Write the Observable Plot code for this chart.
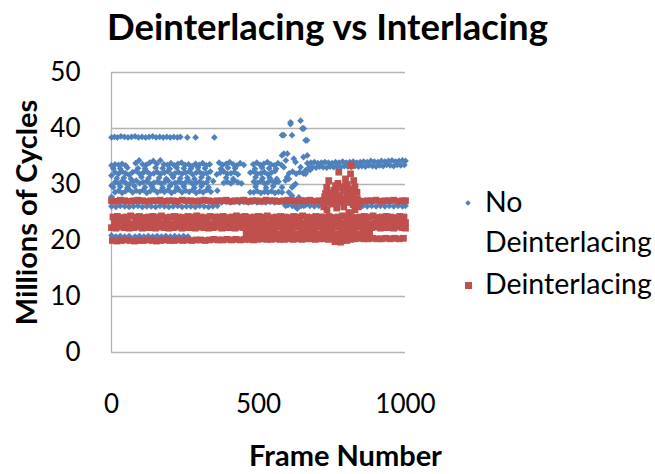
<!DOCTYPE html>
<html><head><meta charset="utf-8">
<script src="https://cdn.jsdelivr.net/npm/d3@7"></script>
<script src="https://cdn.jsdelivr.net/npm/@observablehq/plot@0.6"></script>
<style>
html,body{margin:0;padding:0;background:#fff;}
#wrap{position:relative;width:655px;height:474px;overflow:hidden;font-family:Lato,sans-serif;color:#000;background:#fff;}
#title{position:absolute;left:0;top:8px;width:655px;text-align:center;font-weight:bold;font-size:36.5px;line-height:36px;white-space:nowrap;}
#chart{position:absolute;left:0;top:60px;}
.leg{position:absolute;left:485px;width:175px;font-size:28.5px;line-height:40px;}
.sym{position:absolute;}
</style></head>
<body><div id="wrap"><div id="title"></div><div id="chart"></div></div>
<script>
const chartTitle = "Deinterlacing vs Interlacing";
const xTitle = "Frame Number";
const yTitle = "Millions of Cycles";
const xTicks = [0, 500, 1000];
const yTicks = [0, 10, 20, 30, 40, 50];
const seriesNames = ["No Deinterlacing", "Deinterlacing"];
const seriesColors = ["#4F81BD", "#C0504D"];

// ---- No Deinterlacing: [frame, millions of cycles] ----
const noDeintTop = [[0,38.4],[10,38.5],[20,38.4],[32,38.6],[44,38.5],[56,38.4],[68,38.5],[80,38.6],[92,38.4],[104,38.5],[116,38.4],[128,38.5],[140,38.6],[152,38.4],[164,38.5],[176,38.4],[188,38.5],[200,38.4],[212,38.5],[224,38.4],[234,38.5],[258,38.4],[286,38.4],[350,38.4]];
const noDeintRowA = [[0,33.4],[12,33.6],[24,33.5],[36,33.7],[48,33.4],[82,33.8],[94,34.3],[106,33.6],[118,33.5],[130,33.9],[142,34.2],[154,33.7],[166,34.3],[178,33.6],[190,33.5],[202,33.8],[214,33.4],[226,33.7],[238,33.9],[250,33.5],[262,33.6],[274,33.3],[286,33.7],[298,33.5],[310,33.8],[322,33.4],[334,33.6],[366,33.9],[378,33.5],[390,33.7],[402,34.0],[414,33.6],[426,33.4],[438,33.8],[450,33.5],[482,33.6],[494,33.9],[506,33.5],[518,33.7],[530,34.0],[542,33.6],[554,33.4],[566,33.8],[578,33.5]];
const noDeintRowB = [[0,31.6],[12,32.2],[24,31.9],[36,32.3],[48,32.0],[60,31.7],[72,32.2],[84,32.4],[96,31.9],[108,32.1],[120,32.3],[132,31.8],[144,32.0],[156,32.2],[168,31.9],[180,32.1],[192,32.4],[204,31.8],[216,32.0],[228,32.2],[240,31.9],[252,32.1],[264,32.3],[276,31.8],[288,32.1],[300,32.2],[312,31.9],[324,32.0],[336,32.3],[358,31.8],[370,32.1],[382,32.3],[394,31.9],[406,32.0],[418,32.2],[430,31.8],[472,32.1],[484,32.3],[496,31.9],[508,32.0],[520,32.2],[532,31.8],[544,32.1],[556,32.4],[604,32.0],[616,32.3],[628,31.9],[640,32.2],[652,32.0],[664,32.4],[676,32.6]];
const noDeintRowC = [[0,29.8],[12,30.4],[24,30.2],[36,30.6],[48,30.3],[60,30.0],[72,30.5],[84,30.7],[96,30.2],[108,30.4],[120,30.6],[132,30.1],[144,30.3],[156,30.5],[168,30.2],[180,30.4],[192,30.7],[204,30.1],[216,30.3],[228,30.5],[240,30.2],[252,30.4],[264,30.6],[276,30.1],[288,30.3],[300,30.5],[312,30.2],[324,30.4],[346,30.6],[382,30.3],[394,30.5],[406,30.2],[418,30.7],[430,30.4],[442,30.2],[484,30.5],[496,30.3],[508,30.6],[520,30.2],[532,30.4],[544,30.7],[556,30.3],[568,30.5]];
const noDeintRowD = [[0,27.8],[12,28.6],[24,28.9],[36,28.5],[48,28.8],[60,29.1],[72,28.6],[84,28.9],[96,28.7],[108,29.0],[120,28.5],[132,28.8],[144,29.1],[156,28.6],[168,28.9],[180,28.7],[192,29.0],[204,28.5],[216,28.8],[228,29.1],[240,28.6],[252,28.9],[264,28.7],[276,29.0],[288,28.5],[300,28.8],[312,28.6],[324,29.0],[338,28.7],[360,28.9],[472,28.6],[484,28.6],[496,28.8],[508,28.5],[520,28.7],[532,28.6],[544,28.8],[556,28.5],[568,28.7],[580,28.6]];
const noDeintMid = [[6,32.9],[30,32.8],[54,33.0],[90,32.9],[114,32.8],[150,33.0],[174,32.9],[198,32.8],[222,33.0],[246,32.9],[270,32.8],[294,33.0],[318,32.9],[372,32.8],[396,33.0],[420,32.9],[488,32.8],[512,33.0],[536,32.9],[560,32.8],[18,31.1],[42,31.2],[66,31.0],[102,31.3],[126,31.1],[162,31.2],[186,31.0],[210,31.3],[234,31.1],[258,31.2],[282,31.0],[306,31.3],[330,31.1],[390,31.2],[414,31.0],[490,31.3],[514,31.1],[538,31.2],[562,31.0],[6,29.5],[30,29.6],[54,29.4],[78,29.7],[114,29.5],[138,29.6],[174,29.4],[198,29.7],[222,29.5],[246,29.6],[282,29.4],[306,29.7],[330,29.5],[490,29.6],[526,29.4],[550,29.7]];
const noDeintSpike = [[580,38.8],[586,38.8],[609,41.1],[609,40.8],[614,38.8],[643,41.4],[649,40.0],[654,40.0],[660,37.9],[665,37.9],[580,35.2],[586,35.5],[593,34.3],[598,35.5],[620,34.6],[626,34.0],[653,34.9],[666,35.2],[586,33.1],[643,33.1],[660,32.5],[660,31.9],[597,31.3],[603,31.0],[592,30.7],[626,30.1],[620,29.8],[580,29.5],[614,29.5],[603,28.6],[614,28.0],[637,27.7],[592,26.2],[626,26.0],[632,25.7],[654,26.2]];
const noDeintTailLow = [[672,33.0],[684,33.1],[696,33.0],[708,33.2],[720,33.1],[732,33.0],[744,33.2],[756,33.1],[768,33.2],[780,33.1],[792,33.3],[804,33.2],[816,33.1],[828,33.3],[840,33.2],[852,33.3],[864,33.2],[876,33.4],[888,33.3],[900,33.2],[912,33.4],[924,33.3],[936,33.5],[948,33.4],[960,33.3],[972,33.5],[984,33.4],[996,33.5]];
const noDeintTailHigh = [[666,33.8],[678,33.9],[690,34.0],[702,33.8],[714,33.9],[726,34.0],[738,33.9],[750,33.8],[762,34.0],[774,33.9],[786,34.1],[798,33.9],[810,34.0],[822,34.1],[834,33.9],[846,34.0],[858,34.1],[870,34.0],[882,34.2],[894,34.1],[906,34.0],[918,34.2],[930,34.1],[942,34.2],[954,34.3],[966,34.1],[978,34.2],[990,34.3],[1000,34.2]];
const noDeintRow26 = [[0,26.1],[15,26.0],[30,26.2],[45,26.1],[60,26.0],[75,26.1],[90,26.2],[105,26.0],[120,26.1],[135,26.1],[150,26.0],[165,26.2],[180,26.1],[195,26.0],[210,26.1],[225,26.2],[240,26.0],[255,26.1],[270,26.1],[285,26.0],[300,26.2],[315,26.1],[330,26.0],[345,26.1],[360,26.2],[375,26.8],[390,26.9],[405,26.8],[420,26.9],[435,26.8],[450,26.9],[465,26.8],[480,26.9],[495,26.8],[510,26.9],[525,26.8],[540,26.9],[555,26.8],[570,26.9],[585,26.8],[600,26.3],[615,26.2],[630,26.1],[645,26.2],[660,26.3],[675,26.2],[690,26.1],[705,26.2],[720,26.3],[735,26.6],[750,26.7],[765,26.6],[780,26.7],[795,26.6],[810,26.7],[825,26.6],[840,26.7],[855,26.2],[870,26.1],[885,26.2],[900,26.1],[915,26.2],[930,26.1],[945,26.2],[960,26.1],[975,26.2],[990,26.1],[1000,26.2]];
const noDeintRow21 = [[0,20.9],[15,20.7],[30,20.8],[45,20.7],[60,20.8],[80,20.7],[95,20.8],[110,20.7],[125,20.8],[140,20.7],[155,20.8],[170,20.7],[185,20.8],[200,20.7],[215,20.8],[230,20.7],[245,20.8],[260,20.7]];

// ---- Deinterlacing: [frame, millions of cycles] ----
const deintRow27 = [[0,27.1],[15,27.0],[30,27.2],[45,27.1],[60,27.0],[75,27.1],[90,27.2],[105,27.1],[120,27.0],[135,27.1],[150,27.1],[165,27.2],[180,27.0],[195,27.1],[210,27.1],[225,27.0],[240,27.2],[255,27.1],[270,27.1],[285,27.0],[300,27.1],[315,27.2],[330,27.1],[345,27.0],[360,27.1],[375,27.1],[390,27.2],[405,27.0],[420,27.1],[435,27.1],[450,27.2],[465,27.0],[480,27.1],[495,27.1],[510,27.0],[525,27.2],[540,27.1],[555,27.1],[570,27.0],[585,27.1],[600,27.2],[615,27.1],[630,27.0],[645,27.1],[660,27.1],[675,27.2],[690,27.0],[705,27.1],[720,27.1],[735,27.0],[750,27.2],[765,27.1],[780,27.1],[795,27.0],[810,27.1],[825,27.2],[840,27.1],[855,27.0],[870,27.1],[885,27.1],[900,27.2],[915,27.0],[930,27.1],[945,27.1],[960,27.2],[975,27.0],[990,27.1],[1000,27.1]];
const deintRow24 = [[5,24.2],[20,24.3],[35,24.1],[50,24.2],[65,24.4],[80,24.2],[95,24.3],[110,24.1],[125,24.2],[140,24.3],[155,24.2],[170,24.4],[185,24.1],[200,24.2],[215,24.3],[230,24.2],[245,24.1],[260,24.3],[275,24.2],[290,24.4],[305,24.2],[320,24.1],[335,24.3],[350,24.2],[365,24.2],[380,24.3],[395,24.1],[410,24.2],[425,24.4],[440,24.2],[455,24.3],[470,24.1],[485,24.2],[500,24.3],[515,24.2],[530,24.4],[545,24.1],[560,24.2],[575,24.3],[590,24.2],[605,24.1],[620,24.3],[635,24.2],[650,24.4],[665,24.2],[680,24.1],[695,24.3],[710,24.2],[725,24.2],[740,24.3],[755,24.1],[770,24.2],[785,24.4],[800,24.2],[815,24.3],[830,24.1],[845,24.2],[860,24.3],[875,24.2],[890,24.4],[905,24.1],[920,24.2],[935,24.3],[950,24.2],[965,24.1],[980,24.3],[995,24.2]];
const deintRow23 = [[10,23.2],[25,23.1],[40,23.3],[55,23.2],[70,23.0],[85,23.2],[100,23.3],[115,23.1],[130,23.2],[145,23.2],[160,23.3],[175,23.1],[190,23.2],[205,23.0],[220,23.2],[235,23.3],[250,23.1],[265,23.2],[280,23.2],[295,23.3],[310,23.1],[325,23.2],[340,23.0],[355,23.2],[370,23.3],[385,23.1],[400,23.2],[415,23.2],[430,23.3],[445,23.1],[460,23.2],[475,23.0],[490,23.2],[505,23.3],[520,23.1],[535,23.2],[550,23.2],[565,23.3],[580,23.1],[595,23.2],[610,23.0],[625,23.2],[640,23.3],[655,23.1],[670,23.2],[685,23.2],[700,23.3],[715,23.1],[730,23.2],[745,23.0],[760,23.2],[775,23.3],[790,23.1],[805,23.2],[820,23.2],[835,23.3],[850,23.1],[865,23.2],[880,23.0],[895,23.2],[910,23.3],[925,23.1],[940,23.2],[955,23.2],[970,23.3],[985,23.1],[1000,23.2]];
const deintRow22 = [[0,22.3],[15,22.2],[30,22.4],[45,22.3],[60,22.2],[75,22.3],[90,22.4],[105,22.2],[120,22.3],[135,22.3],[150,22.2],[165,22.4],[180,22.3],[195,22.2],[210,22.3],[225,22.4],[240,22.2],[255,22.3],[270,22.3],[285,22.2],[300,22.4],[315,22.3],[330,22.2],[345,22.3],[360,22.4],[375,22.2],[390,22.3],[405,22.3],[420,22.2],[435,22.4],[450,22.3],[465,22.2],[480,22.3],[495,22.4],[510,22.2],[525,22.3],[540,22.3],[555,22.2],[570,22.4],[585,22.3],[600,22.2],[615,22.3],[630,22.4],[645,22.2],[660,22.3],[675,22.3],[690,22.2],[705,22.4],[720,22.3],[735,22.2],[750,22.3],[765,22.4],[780,22.2],[795,22.3],[810,22.3],[825,22.2],[840,22.4],[855,22.3],[870,22.2],[885,22.3],[900,22.4],[915,22.2],[930,22.3],[945,22.3],[960,22.2],[975,22.4],[990,22.3],[1000,22.2]];
const deintRow21 = [[458,21.2],[473,21.1],[488,21.3],[503,21.2],[518,21.1],[533,21.2],[548,21.3],[563,21.1],[578,21.2],[593,21.2],[608,21.3],[623,21.1],[638,21.2],[653,21.1],[668,21.2],[683,21.3],[698,21.2],[713,21.1],[728,21.2],[743,21.3],[758,21.1],[773,21.2],[788,21.2],[803,21.3],[818,21.1],[833,21.2],[848,21.1],[863,21.2],[878,21.3]];
const deintRow20 = [[3,20.0],[18,19.9],[33,20.0],[48,20.1],[63,20.0],[78,19.9],[93,20.0],[108,20.0],[123,20.1],[138,20.0],[153,19.9],[168,20.0],[183,20.1],[198,20.0],[213,20.0],[228,20.1],[243,20.0],[258,20.1],[273,20.0],[288,20.1],[303,20.1],[318,20.0],[333,20.1],[348,20.2],[363,20.1],[378,20.1],[393,20.2],[408,20.1],[423,20.2],[438,20.1],[453,20.2],[468,20.2],[483,20.1],[498,20.2],[513,20.3],[528,20.2],[543,20.2],[558,20.3],[573,20.2],[588,20.2],[603,20.3],[618,20.2],[633,20.3],[648,20.2],[663,20.3],[678,20.3],[693,20.2],[708,20.3],[723,20.3],[738,20.2],[753,20.3],[768,20.4],[783,20.3],[798,20.3],[813,20.2],[828,20.3],[843,20.4],[858,20.3],[873,20.3],[888,20.4],[903,20.3],[918,20.3],[933,20.4],[948,20.3],[963,20.4],[978,20.3],[993,20.4]];
const deintSpike = [[722,26.0],[725,27.8],[728,28.4],[732,29.5],[733,25.5],[739,30.7],[739,28.0],[744,27.6],[745,24.0],[748,28.5],[750,26.5],[752,21.0],[756,29.0],[758,27.8],[760,19.8],[762,29.8],[764,28.6],[766,25.8],[768,27.8],[770,30.2],[773,32.2],[773,20.3],[776,28.0],[779,29.5],[779,19.7],[782,27.0],[785,29.5],[785,20.0],[788,28.8],[790,26.0],[792,27.5],[794,29.8],[796,31.0],[798,26.8],[800,20.0],[801,28.2],[802,30.0],[805,29.0],[807,25.0],[808,27.8],[810,21.0],[812,29.2],[813,31.9],[815,33.4],[818,28.4],[819,27.4],[822,26.4],[824,30.7],[828,25.5],[828,29.6],[830,28.6],[835,28.6],[836,27.4],[840,26.0]];

const noDeint = [...noDeintTop, ...noDeintRowA, ...noDeintRowB, ...noDeintRowC, ...noDeintRowD, ...noDeintMid, ...noDeintSpike, ...noDeintTailLow, ...noDeintTailHigh, ...noDeintRow26, ...noDeintRow21];
const deint = [...deintRow27, ...deintRow24, ...deintRow23, ...deintRow22, ...deintRow21, ...deintRow20, ...deintSpike];

document.getElementById("title").textContent = chartTitle;

const grid = "#B3B3B3";
const plot = Plot.plot({
  width: 655,
  height: 414,
  marginTop: 12,
  marginBottom: 122,
  marginLeft: 111,
  marginRight: 250,
  style: {fontFamily: "Lato, sans-serif", fontSize: "26px", color: "#000", background: "#fff", overflow: "visible"},
  x: {domain: [0, 1000], ticks: xTicks, tickFormat: d => String(d), tickSize: 0, tickPadding: 42, label: null},
  y: {domain: [0, 50], ticks: yTicks, tickFormat: d => String(d), tickSize: 0, tickPadding: 31, label: null},
  marks: [
    Plot.ruleY(yTicks, {stroke: grid, strokeWidth: 1.3}),
    Plot.ruleX([0], {stroke: grid, strokeWidth: 1.3}),
    Plot.dot(noDeint, {x: d => d[0], y: d => d[1], symbol: "diamond2", r: 3.05, fill: seriesColors[0]}),
    Plot.dot(deint, {x: d => d[0], y: d => d[1], symbol: "square", r: 3.8, fill: seriesColors[1]}),
    Plot.text([yTitle], {frameAnchor: "left", textAnchor: "middle", lineAnchor: "middle", dx: -84, rotate: -90, fontWeight: "bold", fontSize: 29, fill: "#000"}),
    Plot.text([xTitle], {frameAnchor: "bottom", textAnchor: "middle", lineAnchor: "middle", dx: 87, dy: 104, fontWeight: "bold", fontSize: 29, fill: "#000"})
  ]
});
document.getElementById("chart").appendChild(plot);

// legend
const wrap = document.getElementById("wrap");
const legTops = [181, 263];
const symCenters = [203, 285];
seriesNames.forEach((name, i) => {
  const t = document.createElement("div");
  t.className = "leg";
  t.style.top = legTops[i] + "px";
  t.textContent = name;
  wrap.appendChild(t);
  const s = document.createElement("div");
  s.className = "sym";
  s.style.background = seriesColors[i];
  if (i === 0) {
    s.style.width = "4px"; s.style.height = "4px";
    s.style.left = (468 - 2) + "px"; s.style.top = (symCenters[i] - 2) + "px";
    s.style.transform = "rotate(45deg)";
  } else {
    s.style.width = "7px"; s.style.height = "7px";
    s.style.left = (468 - 3.5) + "px"; s.style.top = (symCenters[i] - 3.5) + "px";
  }
  wrap.appendChild(s);
});
</script>
</body></html>
